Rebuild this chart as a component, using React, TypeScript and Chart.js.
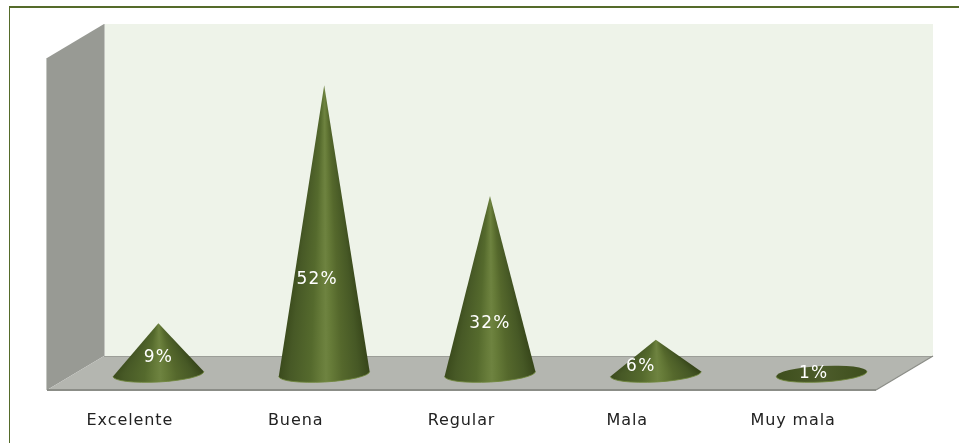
import React, { useEffect, useRef } from "react";
import { Chart, registerables } from "chart.js";

Chart.register(...registerables);

const categories = ["Excelente", "Buena", "Regular", "Mala", "Muy mala"];
const percentValues = [9, 52, 32, 6, 1];
const axisMax = 60;

const depthX = 57;
const depthY = -34;
const labelOffsetX = [0, -7, 0, -15, -8];
const labelOffsetY = [-16, -94, -50, -7, 0];

function coneGradient(ctx: any, x0: number, x1: number) {
  const g = ctx.createLinearGradient(x0, 0, x1, 0);
  g.addColorStop(0, "#3a4a1c");
  g.addColorStop(0.12, "#475926");
  g.addColorStop(0.35, "#556a2d");
  g.addColorStop(0.46, "#667b39");
  g.addColorStop(0.52, "#6e8340");
  g.addColorStop(0.58, "#667b38");
  g.addColorStop(0.7, "#55682c");
  g.addColorStop(0.88, "#465825");
  g.addColorStop(1, "#37461a");
  return g;
}

const conePlugin = {
  id: "cones3d",
  beforeDraw(chart: any) {
    (chart.ctx as any).letterSpacing = "0.9px";
  },
  beforeDatasetsDraw(chart: any) {
    const { ctx, chartArea: a } = chart;
    const { left: l, right: r, top: t, bottom: b } = a;
    ctx.save();
    // frame
    ctx.strokeStyle = "#556b2a";
    ctx.lineWidth = 2;
    ctx.beginPath();
    ctx.moveTo(9, 7);
    ctx.lineTo(959, 7);
    ctx.stroke();
    ctx.lineWidth = 1;
    ctx.beginPath();
    ctx.moveTo(9.5, 7);
    ctx.lineTo(9.5, 443);
    ctx.stroke();
    // back wall
    ctx.fillStyle = "#eef3e9";
    ctx.fillRect(l + depthX, t + depthY, r - l, b - t);
    // side wall
    ctx.fillStyle = "#989a94";
    ctx.beginPath();
    ctx.moveTo(l, t);
    ctx.lineTo(l + depthX, t + depthY);
    ctx.lineTo(l + depthX, b + depthY);
    ctx.lineTo(l, b);
    ctx.closePath();
    ctx.fill();
    ctx.strokeStyle = "#c4c6c1";
    ctx.lineWidth = 1;
    ctx.beginPath();
    ctx.moveTo(l + depthX + 0.5, t + depthY);
    ctx.lineTo(l + depthX + 0.5, b + depthY);
    ctx.moveTo(l - 0.5, t);
    ctx.lineTo(l - 0.5, b);
    ctx.stroke();
    // floor
    ctx.fillStyle = "#b4b6b0";
    ctx.beginPath();
    ctx.moveTo(l, b);
    ctx.lineTo(l + depthX, b + depthY);
    ctx.lineTo(r + depthX, b + depthY);
    ctx.lineTo(r, b);
    ctx.closePath();
    ctx.fill();
    ctx.strokeStyle = "#9c9e98";
    ctx.lineWidth = 1;
    ctx.beginPath();
    ctx.moveTo(l + depthX, b + depthY + 0.5);
    ctx.lineTo(r + depthX, b + depthY + 0.5);
    ctx.stroke();
    ctx.strokeStyle = "#8b8d87";
    ctx.lineWidth = 2;
    ctx.beginPath();
    ctx.moveTo(l, b);
    ctx.lineTo(r, b);
    ctx.stroke();
    ctx.lineWidth = 1.2;
    ctx.beginPath();
    ctx.moveTo(r, b);
    ctx.lineTo(r + depthX, b + depthY);
    ctx.stroke();
    ctx.restore();
  },
  afterDatasetsDraw(chart: any) {
    const { ctx } = chart;
    const meta = chart.getDatasetMeta(0);
    const tilt = -0.055;
    meta.data.forEach((bar: any, i: number) => {
      const cx = bar.x + depthX / 2;
      const baseY = bar.base + depthY / 2 + 1;
      const tipY = bar.y + depthY / 2;
      const rx = 45.5;
      const ry = 8;
      const h = baseY - tipY;
      const ex = rx * Math.cos(tilt);
      const ey = rx * Math.sin(tilt);
      ctx.save();
      if (percentValues[i] <= 1) {
        const g = ctx.createLinearGradient(cx - rx, 0, cx + rx, 0);
        g.addColorStop(0, "#3d4e1c");
        g.addColorStop(0.5, "#4d5c2b");
        g.addColorStop(1, "#3d4e1c");
        ctx.fillStyle = g;
        ctx.beginPath();
        ctx.ellipse(cx, baseY, rx, ry, tilt, 0, Math.PI * 2);
        ctx.fill();
      } else {
        ctx.save();
        ctx.beginPath();
        ctx.moveTo(cx, tipY);
        ctx.lineTo(cx + ex, baseY + ey);
        ctx.ellipse(cx, baseY, rx, ry, tilt, 0, Math.PI);
        ctx.closePath();
        ctx.clip();
        // the shading narrows with the cone towards its tip
        for (let y = Math.floor(tipY); y < baseY + ry + 4; y++) {
          const w0 = Math.min(rx, (rx * Math.max(0, y + 0.5 - tipY)) / h);
          const w = w0 + 0.16 * (rx - w0);
          ctx.fillStyle = coneGradient(ctx, cx - w, cx + w);
          ctx.fillRect(cx - rx - 2, y, rx * 2 + 4, 1);
        }
        ctx.restore();
      }
      ctx.strokeStyle = "rgba(112,135,60,0.85)";
      ctx.lineWidth = 1;
      ctx.beginPath();
      ctx.ellipse(cx, baseY, rx, ry, tilt, 0, Math.PI);
      ctx.stroke();
      ctx.fillStyle = "#ffffff";
      ctx.font = '17px "DejaVu Sans"';
      (ctx as any).letterSpacing = "1.2px";
      ctx.textAlign = "center";
      ctx.textBaseline = "middle";
      ctx.fillText(
        percentValues[i] + "%",
        cx + labelOffsetX[i],
        baseY + labelOffsetY[i]
      );
      ctx.restore();
    });
  },
};

export default function App() {
  const ref = useRef<HTMLCanvasElement>(null);
  useEffect(() => {
    document.body.style.margin = "0";
    const chart = new Chart(ref.current!, {
      type: "bar",
      data: {
        labels: categories,
        datasets: [
          { data: percentValues, backgroundColor: "transparent", borderWidth: 0 },
        ],
      },
      options: {
        animation: false,
        responsive: false,
        layout: { padding: { left: 47, right: 83, top: 58, bottom: 0 } },
        plugins: { legend: { display: false }, tooltip: { enabled: false } },
        scales: {
          y: { display: false, min: 0, max: axisMax },
          x: {
            grid: { display: false, drawTicks: false },
            border: { display: false },
            afterFit(scale: any) {
              scale.height = 53;
            },
            ticks: {
              padding: 21,
              color: "#222222",
              font: { family: '"DejaVu Sans"', size: 16 },
              maxRotation: 0,
            },
          },
        },
      },
      plugins: [conePlugin],
    });
    return () => chart.destroy();
  }, []);
  return (
    <canvas
      ref={ref}
      width={959}
      height={443}
      style={{ display: "block", width: 959, height: 443 }}
    />
  );
}
